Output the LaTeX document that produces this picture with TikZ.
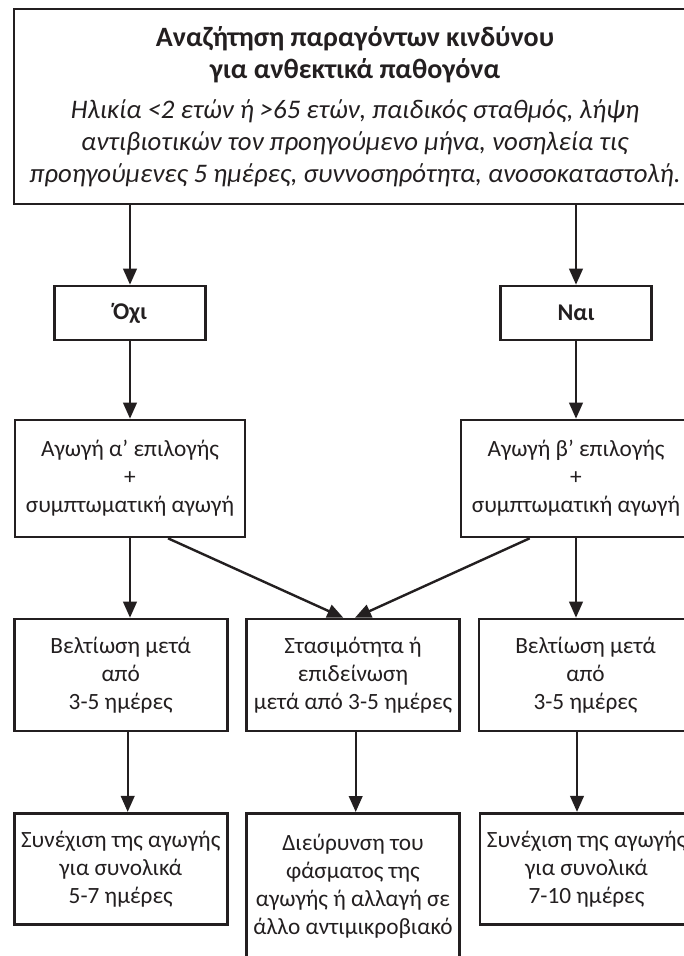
\documentclass[tikz,border=0pt]{standalone}
\usepackage{fontspec}
\setmainfont{Carlito}
\usetikzlibrary{arrows.meta}
\definecolor{ink}{HTML}{231F20}
\begin{document}
\begin{tikzpicture}[x=1pt,y=-1pt,
  box/.style={draw=ink, line width=2.6pt, rectangle, inner sep=0pt, align=center, text=ink,
    font=\fontsize{23.3}{28}\selectfont},
  conn/.style={draw=ink, line width=2.4pt, -{Triangle[length=16pt,width=13.5pt]}}]
\useasboundingbox (0,0) rectangle (683,956);
\fill[white] (0,0) rectangle (683,956);
% top box
\node[box, minimum width=682pt, minimum height=195pt, font=\fontsize{26.8}{32}\selectfont] (top) at (355,106.5)
 {{\fontsize{28}{32}\selectfont\bfseries Αναζήτηση παραγόντων κινδύνου}\\
  {\fontsize{28}{32}\selectfont\bfseries για ανθεκτικά παθογόνα}\\[8pt]
  \textit{Ηλικία <2 ετών ή >65 ετών, παιδικός σταθμός, λήψη}\\
  \textit{αντιβιοτικών τον προηγούμενο μήνα, νοσηλεία τις}\\
  \textit{προηγούμενες 5 ημέρες, συννοσηρότητα, ανοσοκαταστολή.}};
% yes / no
\node[box, minimum width=151.5pt, minimum height=54pt, font=\fontsize{24}{28}\selectfont\bfseries] (oxi) at (130,313) {Όχι};
\node[box, minimum width=151.5pt, minimum height=54pt, font=\fontsize{24}{28}\selectfont\bfseries] (nai) at (576,313) {Ναι};
% row 2
\node[box, minimum width=230pt, minimum height=117pt] (a1) at (130,478.5) {Αγωγή α’ επιλογής\\+\\συμπτωματική αγωγή};
\node[box, minimum width=230pt, minimum height=117pt] (b1) at (576,478.5) {Αγωγή β’ επιλογής\\+\\συμπτωματική αγωγή};
% row 3
\node[box, minimum width=213pt, minimum height=112pt] (r3l) at (120.7,675) {Βελτίωση μετά\\από\\3-5 ημέρες};
\node[box, minimum width=213pt, minimum height=112pt] (r3m) at (353,675) {Στασιμότητα ή\\επιδείνωση\\μετά από 3-5 ημέρες};
\node[box, minimum width=213pt, minimum height=112pt] (r3r) at (585.5,675) {Βελτίωση μετά\\από\\3-5 ημέρες};
% row 4
\node[box, minimum width=213pt, minimum height=111pt] (r4l) at (120.7,868.7) {Συνέχιση της αγωγής\\για συνολικά\\5-7 ημέρες};
\node[box, minimum width=213pt, minimum height=146pt] (r4m) at (353,886.3) {Διεύρυνση του\\φάσματος της\\αγωγής ή αλλαγή σε\\άλλο αντιμικροβιακό};
\node[box, minimum width=213pt, minimum height=111pt] (r4r) at (586.5,868.7) {Συνέχιση της αγωγής\\για συνολικά\\7-10 ημέρες};
% connectors
\draw[conn] (top.south -| oxi.north) -- (oxi.north);
\draw[conn] (top.south -| nai.north) -- (nai.north);
\draw[conn] (oxi.south) -- (a1.north);
\draw[conn] (nai.south) -- (b1.north);
\draw[conn] (a1.south) -- (r3l.north -| a1.south);
\draw[conn] (b1.south) -- (r3r.north -| b1.south);
\draw[conn] ([xshift=38pt]a1.south) -- ([xshift=-9.7pt]r3m.north);
\draw[conn] ([xshift=-46.3pt]b1.south) -- ([xshift=2pt]r3m.north);
\draw[conn] ([xshift=7pt]r3l.south) -- ([xshift=7pt]r4l.north);
\draw[conn] ([xshift=2.7pt]r3m.south) -- ([xshift=2.7pt]r4m.north);
\draw[conn] ([xshift=-8.5pt]r3r.south) -- ([xshift=-9.5pt]r4r.north);
\end{tikzpicture}
\end{document}
